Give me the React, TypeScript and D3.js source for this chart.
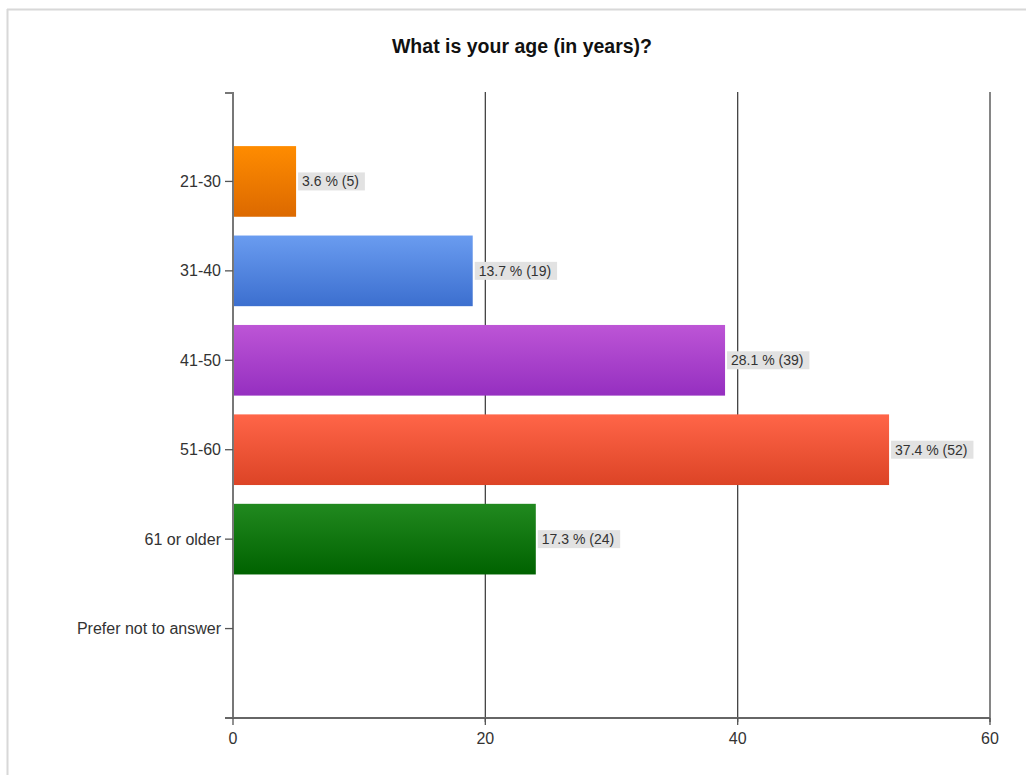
import React from "react";
import * as d3 from "d3";

const categories = ["21-30", "31-40", "41-50", "51-60", "61 or older", "Prefer not to answer"];
const counts = [5, 19, 39, 52, 24, 0];
const percents = ["3.6", "13.7", "28.1", "37.4", "17.3", ""];
const xTicks = [0, 20, 40, 60];
const title = "What is your age (in years)?";

const gradients = [
  ["#ff8c00", "#dc6900"],
  ["#6a9cf0", "#3c6fcf"],
  ["#bd55d6", "#952fc0"],
  ["#ff6548", "#dc4426"],
  ["#21891f", "#006200"],
  ["#999999", "#777777"],
];

const font = "'Liberation Sans', Arial, sans-serif";
let ctx: CanvasRenderingContext2D | null = null;
function measure(text: string, size: number) {
  if (!ctx) ctx = document.createElement("canvas").getContext("2d");
  if (!ctx) return text.length * size * 0.5;
  ctx.font = `${size}px ${font}`;
  return ctx.measureText(text).width;
}

export default function App() {
  const W = 1026, H = 775;
  const left = 233, right = 990, top = 92, bottom = 718;
  const x = d3.scaleLinear().domain([0, 60]).range([left, right]);
  const y = d3.scalePoint<number>().domain(d3.range(0, 8)).range([top, bottom]);
  const step = y.step();
  const barH = step * 0.79;
  const labelSize = 14;

  return (
    <svg width={W} height={H} style={{ position: "absolute", left: 0, top: 0 }} fontFamily={font}>
      <defs>
        {gradients.map((g, i) => (
          <linearGradient key={i} id={`g${i}`} x1="0" y1="0" x2="0" y2="1">
            <stop offset="0%" stopColor={g[0]} />
            <stop offset="100%" stopColor={g[1]} />
          </linearGradient>
        ))}
      </defs>
      <rect x={0} y={0} width={W} height={H} fill="#fff" />
      <line x1={7} y1={9.5} x2={W} y2={9.5} stroke="#d8d8d8" strokeWidth={2} />
      <line x1={7.5} y1={9} x2={7.5} y2={H} stroke="#d8d8d8" strokeWidth={2} />
      <text x={522} y={53} textAnchor="middle" fontSize={19.5} fontWeight="bold" fill="#111">{title}</text>

      {/* gridlines */}
      {xTicks.filter(t => t > 0).map(t => (
        <line key={t} x1={x(t)} x2={x(t)} y1={top} y2={bottom + 4} stroke="#444" strokeWidth={1.3} />
      ))}

      {/* bars */}
      {categories.map((c, i) => {
        const cy = y(i + 1)!;
        const v = counts[i];
        if (!v) return null;
        const bx = x(0), bw = x(v) - x(0);
        const label = `${percents[i]} % (${v})`;
        const lw = measure(label, labelSize) + 10;
        return (
          <g key={c}>
            <rect x={bx} y={cy - barH / 2} width={bw} height={barH} fill={`url(#g${i})`} />
            <rect x={bx + bw + 2} y={cy - 9} width={lw} height={18} fill="#e2e2e2" />
            <text x={bx + bw + 6} y={cy + 5} fontSize={labelSize} fill="#333">{label}</text>
          </g>
        );
      })}

      {/* axes */}
      <line x1={left} x2={left} y1={top} y2={bottom} stroke="#777" strokeWidth={2} />
      <line x1={left - 8} x2={left} y1={top + 1} y2={top + 1} stroke="#777" strokeWidth={2} />
      <line x1={left - 8} x2={right} y1={bottom} y2={bottom} stroke="#666" strokeWidth={2} />
      {categories.map((c, i) => {
        const cy = y(i + 1)!;
        return (
          <g key={c}>
            <line x1={left - 8} x2={left} y1={cy} y2={cy} stroke="#555" strokeWidth={1.3} />
            <text x={left - 12} y={cy + 5.5} textAnchor="end" fontSize={16} fill="#333">{c}</text>
          </g>
        );
      })}
      {xTicks.map(t => (
        <g key={t}>
          <line x1={x(t)} x2={x(t)} y1={bottom} y2={bottom + 7} stroke="#555" strokeWidth={1.3} />
          <text x={x(t)} y={bottom + 26} textAnchor="middle" fontSize={16} fill="#333">{t}</text>
        </g>
      ))}
    </svg>
  );
}
